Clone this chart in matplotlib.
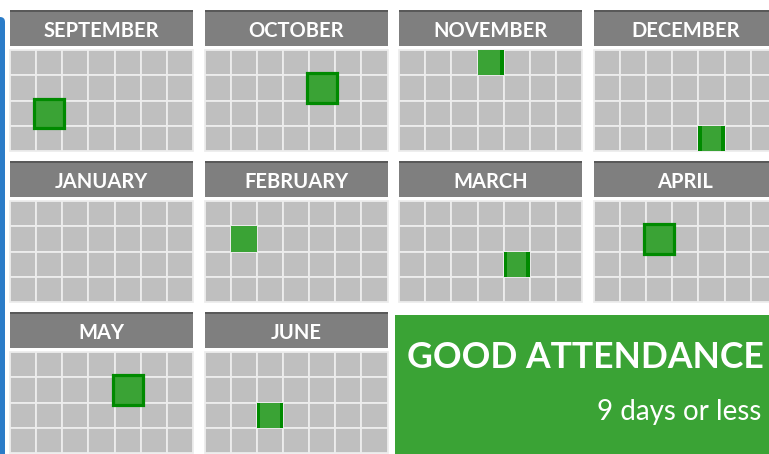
import matplotlib.pyplot as plt
from matplotlib.patches import Rectangle, FancyBboxPatch

# calendar months in reading order (4 per row)
months = ["SEPTEMBER", "OCTOBER", "NOVEMBER", "DECEMBER",
          "JANUARY", "FEBRUARY", "MARCH", "APRIL",
          "MAY", "JUNE"]

# absence days marked on each calendar (weekday column, week row)
mark_month = ["SEPTEMBER", "OCTOBER", "NOVEMBER", "DECEMBER", "FEBRUARY",
              "MARCH", "APRIL", "MAY", "JUNE"]
mark_weekday = [1, 4, 3, 4, 1, 4, 2, 4, 2]
mark_week = [2, 1, 0, 3, 1, 2, 1, 1, 2]
mark_edge = ["box", "box", "right", "sides", "none", "sides", "box", "box", "sides"]

banner_title = "GOOD ATTENDANCE"
banner_sub = "9 days or less"

n_cols, n_rows = 7, 4

GREY = "#BFBFBF"
HEAD = "#7F7F7F"
HEAD_TOP = "#595959"
GREEN = "#3AA335"
DARK_GREEN = "#008A00"
BLUE = "#2B7CC8"

plt.rcParams["font.family"] = ["Lato", "DejaVu Sans"]

fig = plt.figure(figsize=(7.69, 4.54), dpi=100)
ax = fig.add_axes([0, 0, 1, 1])
ax.set_xlim(0, 769)
ax.set_ylim(454, 0)
ax.axis("off")

# layout (pixels)
x0, dx = 10, 194.6
y0, dy = 10, 151
cal_w = 183
head_h = 36
grid_gap = 4
cell_w = cal_w / n_cols
cell_h = 25.3

# blue side bar
ax.add_patch(FancyBboxPatch((-10, 17), 15, 470, boxstyle="round,pad=0,rounding_size=5",
                            fc=BLUE, ec="none"))

origin = {}
for i, m in enumerate(months):
    cx = x0 + (i % 4) * dx
    cy = y0 + (i // 4) * dy
    origin[m] = (cx, cy)
    ax.add_patch(Rectangle((cx, cy), cal_w, head_h, fc=HEAD, ec="none"))
    ax.add_patch(Rectangle((cx, cy), cal_w, 1.6, fc=HEAD_TOP, ec="none"))
    ax.text(cx + cal_w / 2, cy + 27, m, color="white", fontsize=14.5,
            fontweight="bold", ha="center", va="baseline")
    gy = cy + head_h + grid_gap
    for c in range(n_cols):
        for r in range(n_rows):
            ax.add_patch(Rectangle((cx + c * cell_w, gy + r * cell_h), cell_w, cell_h,
                                   fc=GREY, ec="#EDEDED", lw=1.3))

# marked days
for m, c, r, e in zip(mark_month, mark_weekday, mark_week, mark_edge):
    cx, cy = origin[m]
    x = cx + c * cell_w
    y = cy + head_h + grid_gap + r * cell_h
    if e == "box":
        ax.add_patch(Rectangle((x - 2, y - 2), cell_w + 4, cell_h + 4,
                               fc=GREEN, ec=DARK_GREEN, lw=2.3, zorder=3))
    else:
        ax.add_patch(Rectangle((x, y), cell_w, cell_h, fc=GREEN, ec="none", zorder=3))
        if e in ("sides",):
            ax.add_patch(Rectangle((x, y), 3.5, cell_h, fc=DARK_GREEN, ec="none", zorder=4))
        if e in ("sides", "right"):
            ax.add_patch(Rectangle((x + cell_w - 3.5, y), 3.5, cell_h, fc=DARK_GREEN,
                                   ec="none", zorder=4))

# attendance banner
ax.add_patch(Rectangle((395, 315), 400, 150, fc=GREEN, ec="none"))
ax.text(407, 368, banner_title, color="white", fontsize=25.6, fontweight="bold",
        ha="left", va="baseline")
ax.text(597, 420, banner_sub, color="white", fontsize=20, ha="left", va="baseline")

fig.savefig("out.png", dpi=100)
